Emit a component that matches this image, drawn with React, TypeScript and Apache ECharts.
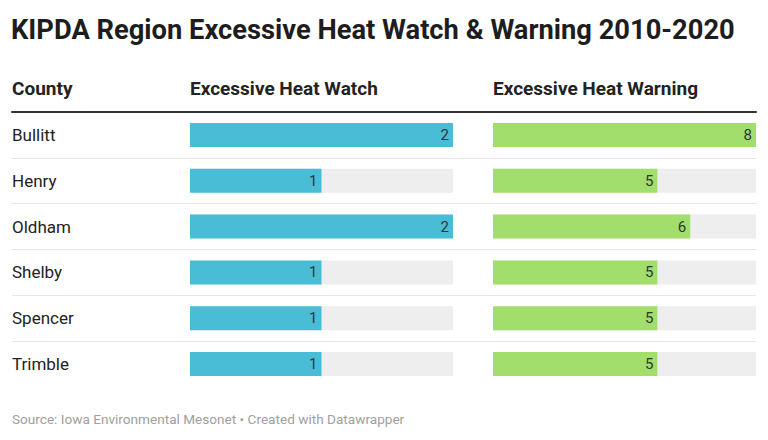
import React, { useEffect, useRef } from "react";
import * as echarts from "echarts";

const counties = ["Bullitt", "Henry", "Oldham", "Shelby", "Spencer", "Trimble"];
const watchValues = [2, 1, 2, 1, 1, 1];
const warningValues = [8, 5, 6, 5, 5, 5];
const headers = ["County", "Excessive Heat Watch", "Excessive Heat Warning"];
const titleText = "KIPDA Region Excessive Heat Watch & Warning 2010-2020";
const footerText = "Source: Iowa Environmental Mesonet • Created with Datawrapper";

const FONT = "Roboto, 'Noto Sans', sans-serif";

export default function App() {
  const ref = useRef<HTMLDivElement>(null);
  useEffect(() => {
    if (!ref.current) return;
    const chart = echarts.init(ref.current, null, { renderer: "svg" });
    const top = 112;
    const height = 275;
    const barLabel = {
      show: true,
      position: "insideRight",
      distance: 4,
      color: "#333",
      fontSize: 15,
      fontFamily: FONT,
    };
    chart.setOption({
      animation: false,
      backgroundColor: "#fff",
      title: [
        {
          text: titleText,
          left: 11,
          top: 16,
          padding: 0,
          textStyle: { fontFamily: FONT, fontWeight: "bold", fontSize: 27.3, color: "#1d1d1d" },
        },
        {
          text: footerText,
          left: 12,
          top: 412,
          padding: 0,
          textStyle: { fontFamily: FONT, fontWeight: "normal", fontSize: 13.6, color: "#a0a0a0" },
        },
      ],
      graphic: [
        { type: "text", left: 12, top: 79, style: { text: headers[0], font: `bold 19px ${FONT}`, fill: "#222" } },
        { type: "text", left: 190, top: 79, style: { text: headers[1], font: `bold 19px ${FONT}`, fill: "#222" } },
        { type: "text", left: 493, top: 79, style: { text: headers[2], font: `bold 19px ${FONT}`, fill: "#222" } },
      ],
      grid: [
        { left: 12, width: 744, top, height },
        { left: 190, width: 263, top, height },
        { left: 493, width: 263, top, height },
      ],
      xAxis: [
        {
          gridIndex: 0,
          type: "value",
          position: "top",
          min: 0,
          max: 1,
          axisLine: { show: true, onZero: false, lineStyle: { color: "#333", width: 2 } },
          axisTick: { show: false },
          axisLabel: { show: false },
          splitLine: { show: false },
        },
        { gridIndex: 1, type: "value", min: 0, max: 2, show: false },
        { gridIndex: 2, type: "value", min: 0, max: 8, show: false },
      ],
      yAxis: [
        {
          gridIndex: 0,
          type: "category",
          data: counties,
          inverse: true,
          axisLine: { show: false },
          axisTick: { show: false },
          axisLabel: {
            inside: true,
            margin: 0,
            align: "left",
            fontSize: 17,
            fontFamily: FONT,
            color: "#222",
          },
          splitLine: { show: false },
        },
        { gridIndex: 1, type: "category", data: counties, inverse: true, show: false },
        { gridIndex: 2, type: "category", data: counties, inverse: true, show: false },
        {
          gridIndex: 0,
          type: "value",
          min: 0,
          max: counties.length,
          interval: 1,
          inverse: true,
          position: "right",
          axisLine: { show: false },
          axisTick: { show: false },
          axisLabel: { show: false },
          splitLine: {
            show: true,
            showMinLine: false,
            showMaxLine: false,
            lineStyle: { color: "#e6e6e6", width: 1 },
          },
        },
      ],
      series: [
        {
          type: "bar",
          xAxisIndex: 1,
          yAxisIndex: 1,
          data: watchValues,
          barWidth: 24,
          itemStyle: { color: "#4abdd6" },
          showBackground: true,
          backgroundStyle: { color: "#eeeeee" },
          label: barLabel,
        },
        {
          type: "bar",
          xAxisIndex: 2,
          yAxisIndex: 2,
          data: warningValues,
          barWidth: 24,
          itemStyle: { color: "#a2de6c" },
          showBackground: true,
          backgroundStyle: { color: "#eeeeee" },
          label: barLabel,
        },
      ],
    });
    return () => chart.dispose();
  }, []);
  return <div ref={ref} style={{ width: 768, height: 440, position: "absolute", left: 0, top: 0 }} />;
}
